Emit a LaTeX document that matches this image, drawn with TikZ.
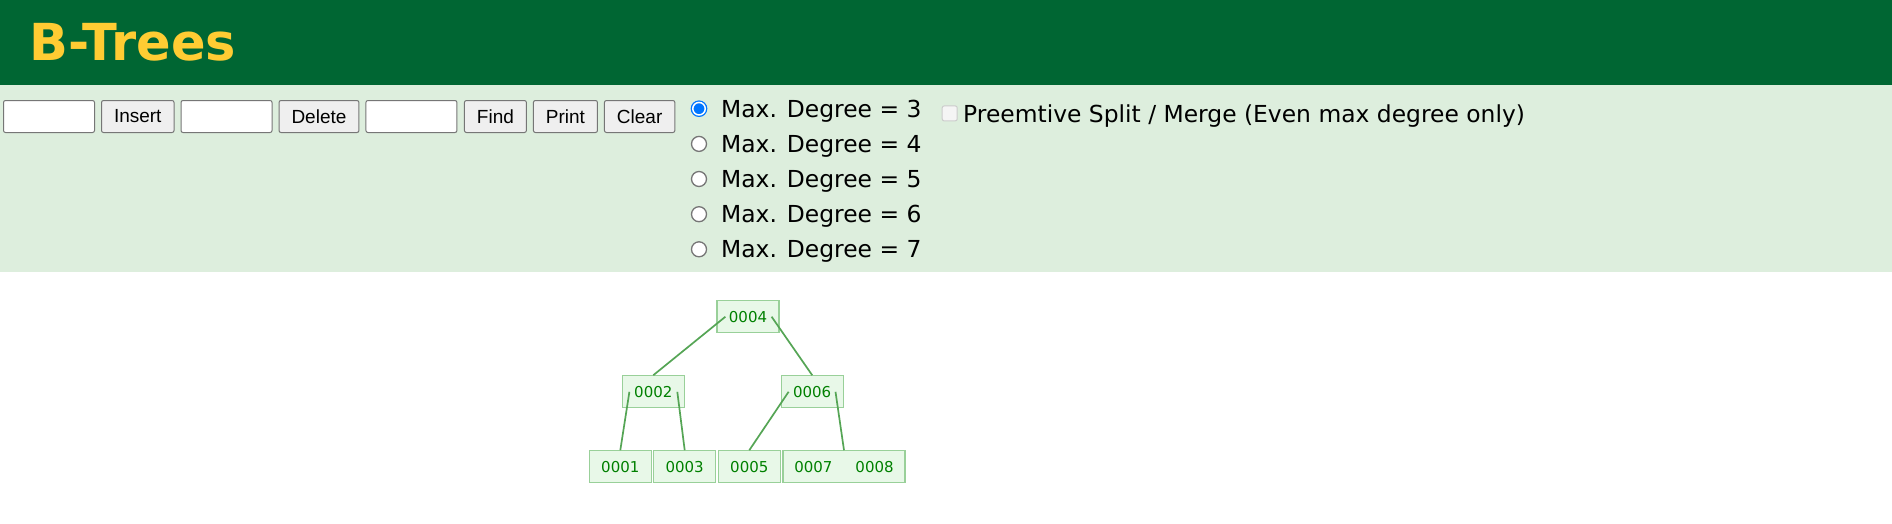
\documentclass[tikz,border=0pt]{standalone}
\usepackage{fontspec}
\setmainfont{DejaVu Sans}
\newfontfamily\btnfont{Liberation Sans}
\usetikzlibrary{positioning,calc}

\definecolor{headgreen}{HTML}{006633}
\definecolor{titleyellow}{HTML}{FFCC33}
\definecolor{bandgreen}{HTML}{DDEEDD}
\definecolor{ctrlgray}{HTML}{767676}
\definecolor{btnfill}{HTML}{EFEFEF}
\definecolor{radioblue}{HTML}{0075FF}
\definecolor{boxfill}{HTML}{E8F8E8}
\definecolor{boxline}{HTML}{99D099}
\definecolor{keygreen}{HTML}{008000}
\definecolor{edgegreen}{HTML}{55A555}

\tikzset{
  field/.style={draw=ctrlgray, fill=white, rounded corners=2pt, line width=1pt, minimum width=91pt, minimum height=32pt, inner sep=0pt},
  button/.style={draw=ctrlgray, fill=btnfill, rounded corners=2pt, line width=1pt, minimum height=32pt, inner xsep=12.5pt, inner ysep=0pt, font=\btnfont\fontsize{19}{19}\selectfont},
  radiooff/.style={circle, draw=ctrlgray, fill=white, line width=1.3pt, minimum size=15pt, inner sep=0pt},
  radioon/.style={circle, draw=radioblue, double=white, double distance=1.5pt, line width=1.3pt, fill=radioblue, minimum size=12.5pt, inner sep=0pt},
  degree/.style={anchor=base west, inner sep=0pt, font=\fontsize{23.4}{23.4}\selectfont},
  keybox/.style={draw=boxline, fill=boxfill, line width=1.2pt, minimum width=62pt, minimum height=32pt, inner sep=0pt, text=keygreen, font=\fontsize{15}{15}\selectfont},
  treeedge/.style={draw=edgegreen, line width=1.7pt},
}

\begin{document}
\begin{tikzpicture}[x=1pt, y=-1pt]
    \useasboundingbox (0,0) rectangle (1892,523);
    \fill[white] (0,0) rectangle (1892,523);

    % Header
    \fill[headgreen] (0,0) rectangle (1892,85);
    \node[anchor=base west, inner sep=0pt, text=titleyellow, font=\bfseries\fontsize{51}{51}\selectfont] (title) at (29.5,60.7) {B-Trees};

    % Controls
    \fill[bandgreen] (0,85) rectangle (1892,271.7);
    \node[field] (insertfield) at (49,116.5) {};
    \node[button, right=6pt of insertfield] (insertbtn) {Insert};
    \node[field, right=6pt of insertbtn] (deletefield) {};
    \node[button, right=6pt of deletefield] (deletebtn) {Delete};
    \node[field, right=6pt of deletebtn] (findfield) {};
    \node[button, right=6.5pt of findfield] (findbtn) {Find};
    \node[button, right=6pt of findbtn] (printbtn) {Print};
    \node[button, right=6pt of printbtn] (clearbtn) {Clear};

    % Max. degree choice
    \node[radioon] (deg3) at (699,108.7) {};
    \node[degree] (deg3label) at (721,117.3) {Max. Degree = 3};
    \node[radiooff] (deg4) at (699,143.9) {};
    \node[degree] (deg4label) at (721,152.5) {Max. Degree = 4};
    \node[radiooff] (deg5) at (699,179) {};
    \node[degree] (deg5label) at (721,187.6) {Max. Degree = 5};
    \node[radiooff] (deg6) at (699,214.2) {};
    \node[degree] (deg6label) at (721,222.8) {Max. Degree = 6};
    \node[radiooff] (deg7) at (699,249.3) {};
    \node[degree] (deg7label) at (721,257.9) {Max. Degree = 7};

    % Preemptive split (disabled)
    \node[draw=black!20, fill=black!4, rounded corners=2pt, line width=1pt, minimum size=15pt, inner sep=0pt] (splitbox) at (949.7,113.4) {};
    \node[degree] (splitlabel) at (963,122.8) {Preemtive Split / Merge (Even max degree only)};

    % Tree
    \node[keybox] (n4) at (748,316.7) {0004};
    \node[keybox] (n2) at (653.3,391.8) {0002};
    \node[keybox] (n6) at (812.2,391.8) {0006};
    \node[keybox] (n1) at (620.3,466.8) {0001};
    \node[keybox] (n3) at (684.7,466.8) {0003};
    \node[keybox] (n5) at (749.3,466.8) {0005};
    \node[keybox, minimum width=122pt] (n78) at (844,466.8) {0007\hspace{23pt}0008};

    \draw[treeedge] ($(n4.west)+(9,0)$) -- (n2.north);
    \draw[treeedge] ($(n4.east)+(-8,0)$) -- (n6.north);
    \draw[treeedge] ($(n2.west)+(7.7,0)$) -- (n1.north);
    \draw[treeedge] ($(n2.east)+(-7.6,0)$) -- (n3.north);
    \draw[treeedge] ($(n6.west)+(8,0)$) -- (n5.north);
    \draw[treeedge] ($(n6.east)+(-8.3,0)$) -- (n78.north);
\end{tikzpicture}
\end{document}
